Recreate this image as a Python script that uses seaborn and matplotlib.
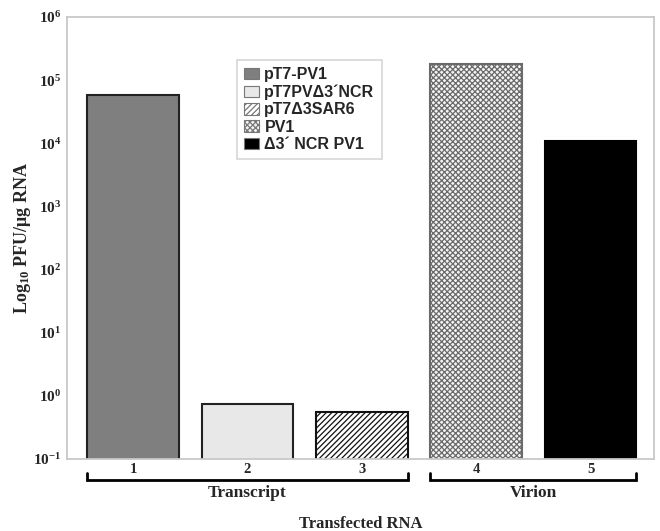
import matplotlib
matplotlib.use("Agg")
import matplotlib.pyplot as plt
import matplotlib.transforms as mtransforms
from matplotlib.patches import Patch
import seaborn as sns
import pandas as pd

# ---- data ----
lanes = ["1", "2", "3", "4", "5"]
names = ["pT7-PV1", "pT7PV\u03943\u00b4NCR", "pT7\u03943SAR6", "PV1", "\u03943\u00b4 NCR PV1"]
pfu = [5.8e4, 0.74, 0.55, 1.8e5, 1.09e4]
groups = ["Transcript", "Transcript", "Transcript", "Virion", "Virion"]
ytick_vals = [1e-1, 1e0, 1e1, 1e2, 1e3, 1e4, 1e5, 1e6]
ytick_labels = [r"$10^{-1}$", r"$10^{0}$", r"$10^{1}$", r"$10^{2}$",
                r"$10^{3}$", r"$10^{4}$", r"$10^{5}$", r"$10^{6}$"]

fills = ["#7f7f7f", "#e8e8e8", "white", "#f4f4f4", "black"]
hatches = [None, None, "//////", "xxxxxx", None]
edges = ["#222222", "#222222", "#111111", "#6a6a6a", "black"]

sns.set_style("white")
plt.rcParams["font.family"] = ["Liberation Serif", "DejaVu Serif"]
plt.rcParams["font.weight"] = "bold"
plt.rcParams["mathtext.fontset"] = "custom"
plt.rcParams["mathtext.rm"] = "Liberation Serif:bold"
plt.rcParams["mathtext.bf"] = "Liberation Serif:bold"
plt.rcParams["mathtext.it"] = "Liberation Serif:bold:italic"
plt.rcParams["hatch.linewidth"] = 0.9

df = pd.DataFrame({"lane": lanes, "name": names, "pfu": pfu, "group": groups})

fig = plt.figure(figsize=(6.6, 5.31), dpi=100)
ax = fig.add_axes([0.1015, 0.1356, 0.8895, 0.8324])

ax.set_yscale("log")
sns.barplot(data=df, x="lane", y="pfu", hue="name", hue_order=names,
            palette=fills, dodge=False, width=0.8, legend=False, ax=ax,
            edgecolor="black", linewidth=1.5)

bars = [p for p in ax.patches]
for p, fc, h, ec in zip(bars, fills, hatches, edges):
    p.set_facecolor(fc)
    p.set_edgecolor(ec)
    if h:
        p.set_hatch(h)
    p.set_linewidth(1.5)

ax.set_ylim(1e-1, 1e6)
ax.set_xlim(-0.577, 4.555)
ax.set_yticks(ytick_vals)
ax.set_yticklabels(ytick_labels)
ax.minorticks_off()
ax.tick_params(axis="y", length=0, pad=4, labelsize=11)
ax.tick_params(axis="x", length=0, pad=3, labelsize=10.5)
for lab in ax.get_xticklabels():
    lab.set_fontweight("bold")

for s in ax.spines.values():
    s.set_color("#c8c8c8")
    s.set_linewidth(1.3)

ax.set_ylabel("Log$_{10}$ PFU/\u03bcg RNA", fontsize=13, fontweight="bold")
ax.yaxis.set_label_coords(-0.058, 0.5)
ax.set_xlabel("Transfected RNA", fontsize=12, fontweight="bold", labelpad=29)

# group brackets
trans = mtransforms.blended_transform_factory(ax.transData, ax.transAxes)
ybr = -0.0475
hook = 0.016
for gname in ["Transcript", "Virion"]:
    idx = [i for i, g in enumerate(groups) if g == gname]
    x0 = idx[0] - 0.4
    x1 = idx[-1] + 0.4
    ax.plot([x0, x0, x1, x1], [ybr + hook, ybr, ybr, ybr + hook], color="black",
            lw=2, transform=trans, clip_on=False, solid_joinstyle="miter")
    ax.text((x0 + x1) / 2, ybr - 0.03, gname, transform=trans, ha="center",
            va="center", fontsize=12.5, fontweight="bold")

# legend
handles = [Patch(facecolor=fc, edgecolor="#777777", hatch=h, linewidth=0.8)
           for fc, h in zip(fills, hatches)]
leg = ax.legend(handles, names, loc="upper left", bbox_to_anchor=(0.29, 0.903),
                prop={"family": "Liberation Sans", "weight": "bold", "size": 11.5},
                frameon=True, fancybox=False, edgecolor="#cccccc",
                handlelength=0.9, handleheight=0.75, handletextpad=0.35,
                labelspacing=0.15, borderpad=0.45, borderaxespad=0)
leg.get_frame().set_linewidth(1.2)

fig.savefig("out.png", dpi=100)
